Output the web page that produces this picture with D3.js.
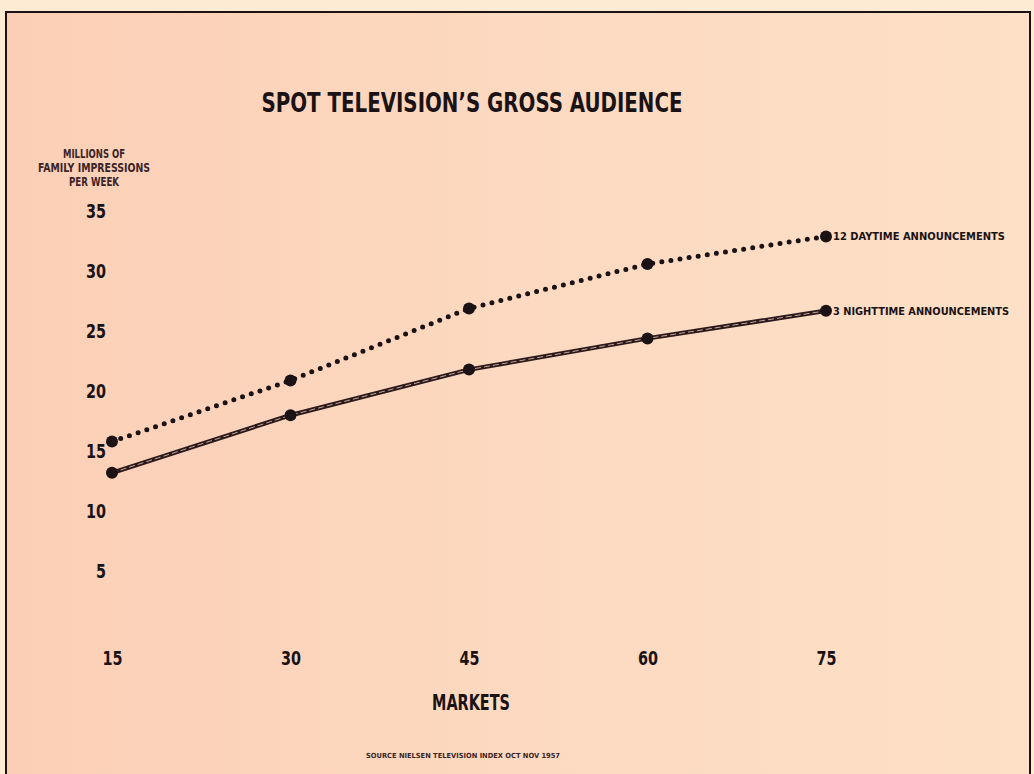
<!DOCTYPE html>
<html>
<head>
<meta charset="utf-8">
<script src="https://cdn.jsdelivr.net/npm/d3@7"></script>
<style>
  body { margin: 0; background: #fdebd3; }
  svg { display: block; }
  text { font-family: "Liberation Sans Narrow", "DejaVu Sans Condensed", "Roboto Condensed", sans-serif; font-weight: bold; fill: #1a1214; }
</style>
</head>
<body>
<script>
// values
const markets = [15, 30, 45, 60, 75];
const daytime = [15.7, 20.8, 26.8, 30.5, 32.8];
const nighttime = [13.1, 17.9, 21.7, 24.3, 26.6];
const yTicks = [5, 10, 15, 20, 25, 30, 35];
const seriesNames = ["12 DAYTIME ANNOUNCEMENTS", "3 NIGHTTIME ANNOUNCEMENTS"];

const width = 1034, height = 774;

const svg = d3.select("body").append("svg")
  .attr("width", width)
  .attr("height", height);

// paper
const defs = svg.append("defs");
const grad = defs.append("linearGradient").attr("id", "paper")
  .attr("x1", 0).attr("x2", 1).attr("y1", 0).attr("y2", 0);
grad.append("stop").attr("offset", 0).attr("stop-color", "#fbcfb6");
grad.append("stop").attr("offset", 0.5).attr("stop-color", "#fcd9c0");
grad.append("stop").attr("offset", 1).attr("stop-color", "#fde0c6");

svg.append("rect")
  .attr("x", 6).attr("y", 12)
  .attr("width", 1024).attr("height", 770)
  .attr("fill", "url(#paper)")
  .attr("stroke", "#1a1214")
  .attr("stroke-width", 2);

const x = d3.scaleLinear().domain([15, 75]).range([112, 826]);
const y = d3.scaleLinear().domain([0, 35]).range([630, 210]);

// title
svg.append("text")
  .attr("x", 472).attr("y", 112)
  .attr("text-anchor", "middle")
  .attr("font-size", 27)
  .attr("textLength", 421)
  .attr("lengthAdjust", "spacingAndGlyphs")
  .text("SPOT TELEVISION\u2019S GROSS AUDIENCE");

// y axis title
const yTitle = ["MILLIONS OF", "FAMILY IMPRESSIONS", "PER WEEK"];
const yTitleW = [62, 112, 50];
svg.selectAll(".ytitle").data(yTitle).join("text")
  .attr("class", "ytitle")
  .attr("x", 94)
  .attr("y", (d, i) => 158 + i * 14)
  .attr("text-anchor", "middle")
  .attr("font-size", 11.5)
  .attr("textLength", (d, i) => yTitleW[i])
  .attr("lengthAdjust", "spacingAndGlyphs")
  .style("fill", "#3a2426")
  .text(d => d);

// axes (labels only, no lines)
const tickW = d => String(d).length * 10;

const yAxis = svg.append("g")
  .attr("transform", "translate(106,0)")
  .call(d3.axisLeft(y).tickValues(yTicks).tickSize(0).tickPadding(0));
yAxis.select(".domain").remove();
yAxis.selectAll("text")
  .attr("font-size", 20)
  .attr("dy", "0.36em")
  .attr("textLength", tickW)
  .attr("lengthAdjust", "spacingAndGlyphs");

const xAxis = svg.append("g")
  .attr("transform", "translate(0,651)")
  .call(d3.axisBottom(x).tickValues(markets).tickSize(0).tickPadding(0));
xAxis.select(".domain").remove();
xAxis.selectAll("text")
  .attr("font-size", 20)
  .attr("dy", "0.71em")
  .attr("textLength", tickW)
  .attr("lengthAdjust", "spacingAndGlyphs");

svg.append("text")
  .attr("x", 471).attr("y", 710)
  .attr("text-anchor", "middle")
  .attr("font-size", 21)
  .attr("textLength", 78)
  .attr("lengthAdjust", "spacingAndGlyphs")
  .text("MARKETS");

svg.append("text")
  .attr("x", 463).attr("y", 758)
  .attr("text-anchor", "middle")
  .attr("font-size", 7)
  .attr("textLength", 194)
  .attr("lengthAdjust", "spacingAndGlyphs")
  .style("fill", "#3a2426")
  .text("SOURCE NIELSEN TELEVISION INDEX OCT NOV 1957");

// lines
const line = d3.line().x(d => x(d[0])).y(d => y(d[1]));
const dayPts = markets.map((m, i) => [m, daytime[i]]);
const nightPts = markets.map((m, i) => [m, nighttime[i]]);

svg.append("path")
  .attr("d", line(dayPts))
  .attr("fill", "none")
  .attr("stroke", "#1a1214")
  .attr("stroke-width", 5)
  .attr("stroke-linecap", "round")
  .attr("stroke-dasharray", "0 9.2");

svg.append("path")
  .attr("d", line(nightPts))
  .attr("fill", "none")
  .attr("stroke", "#2a1a1c")
  .attr("stroke-width", 4.5);
svg.append("path")
  .attr("d", line(nightPts))
  .attr("fill", "none")
  .attr("stroke", "#c9a193")
  .attr("stroke-width", 1)
  .attr("stroke-dasharray", "6 3");

// markers
[dayPts, nightPts].forEach(pts => {
  svg.append("g").selectAll("circle").data(pts).join("circle")
    .attr("cx", d => x(d[0]))
    .attr("cy", d => y(d[1]))
    .attr("r", 6)
    .attr("fill", "#1a1214");
});

// series labels at the end of each line
const ends = [daytime[daytime.length - 1], nighttime[nighttime.length - 1]];
svg.selectAll(".slabel").data(seriesNames).join("text")
  .attr("class", "slabel")
  .attr("x", x(75) + 7)
  .attr("y", (d, i) => y(ends[i]) + 4)
  .attr("font-size", 11)
  .attr("textLength", (d, i) => i === 0 ? 172 : 176)
  .attr("lengthAdjust", "spacingAndGlyphs")
  .text(d => d);
</script>
</body>
</html>
